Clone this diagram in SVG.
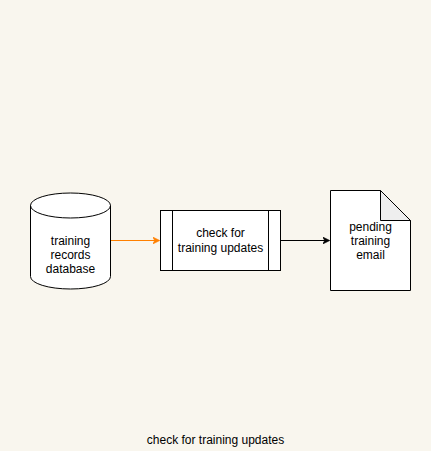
<svg xmlns="http://www.w3.org/2000/svg" width="431" height="451" viewBox="0 0 431 451">
<style>
.shape{fill:#ffffff;stroke:#000000;stroke-width:1}
.lbl{font-family:"Liberation Sans",Arial,sans-serif;font-size:12px;fill:#000000;text-anchor:middle}
</style>
<defs>
<marker id="arrO" viewBox="0 0 10 10" refX="9" refY="5" markerWidth="7" markerHeight="7" orient="auto" markerUnits="userSpaceOnUse"><path d="M0,0 L10,5 L0,10 L3,5 Z" fill="#FF8000" stroke="#FF8000"/></marker>
<marker id="arrK" viewBox="0 0 10 10" refX="9" refY="5" markerWidth="7" markerHeight="7" orient="auto" markerUnits="userSpaceOnUse"><path d="M0,0 L10,5 L0,10 L3,5 Z" fill="#000000" stroke="#000000"/></marker>
</defs>
<rect x="0" y="0" width="431" height="451" fill="#F9F6EE"/>
<g id="connectors">
<path d="M110.5,240.5 L159,240.5" fill="none" stroke="#FF8000" stroke-width="1" marker-end="url(#arrO)"/>
<path d="M280.5,240.5 L329,240.5" fill="none" stroke="#000000" stroke-width="1" marker-end="url(#arrK)"/>
</g>
<g id="db">
<path class="shape" d="M30.5,205.5 A40,12.5 0 0 1 110.5,205.5 L110.5,276.5 A40,12.5 0 0 1 30.5,276.5 Z"/>
<path d="M30.5,205.5 A40,12.5 0 0 0 110.5,205.5" fill="none" stroke="#000000" stroke-width="1"/>
<text class="lbl" x="70.5" y="245">training</text>
<text class="lbl" x="70.5" y="259">records</text>
<text class="lbl" x="70.5" y="273">database</text>
</g>
<g id="process">
<rect class="shape" x="160.5" y="210.5" width="120" height="60"/>
<line x1="172.5" y1="210.5" x2="172.5" y2="270.5" stroke="#000000"/>
<line x1="268.5" y1="210.5" x2="268.5" y2="270.5" stroke="#000000"/>
<text class="lbl" x="220.5" y="237">check for</text>
<text class="lbl" x="220.5" y="252">training updates</text>
</g>
<g id="doc">
<path class="shape" d="M330.5,190.5 L380.5,190.5 L410.5,220.5 L410.5,290.5 L330.5,290.5 Z"/>
<path d="M380.5,190.5 L380.5,220.5 L410.5,220.5 Z" fill="#EEEEEE" stroke="#000000" stroke-width="1"/>
<text class="lbl" x="370.5" y="231">pending</text>
<text class="lbl" x="370.5" y="245">training</text>
<text class="lbl" x="370.5" y="259">email</text>
</g>
<g id="title">
<text class="lbl" x="215.5" y="444">check for training updates</text>
</g>
</svg>
